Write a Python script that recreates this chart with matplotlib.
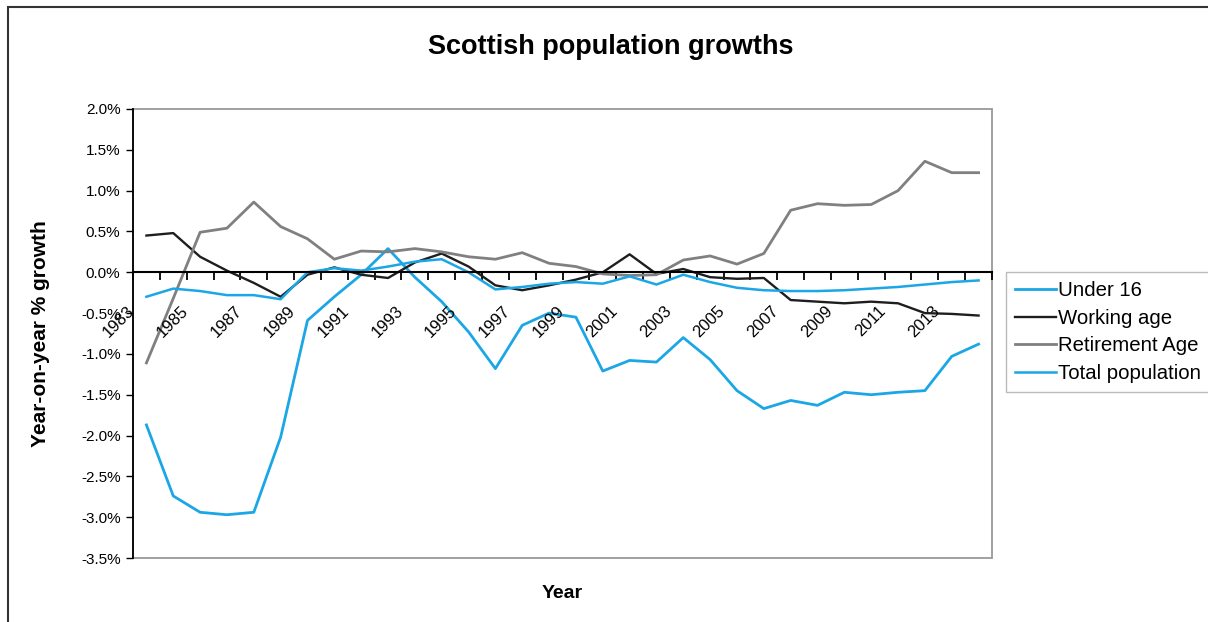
import matplotlib
matplotlib.use("Agg")
import matplotlib.pyplot as plt
from matplotlib.patches import Rectangle

plt.rcParams["font.family"] = ["Liberation Sans", "DejaVu Sans"]

# data (year-on-year % growth)
years = list(range(1983, 2015))
under16 = [-1.87, -2.74, -2.94, -2.97, -2.94, -2.02, -0.59, -0.30, -0.03, 0.29,
           -0.06, -0.36, -0.73, -1.18, -0.65, -0.50, -0.55, -1.21, -1.08, -1.10,
           -0.80, -1.07, -1.45, -1.67, -1.57, -1.63, -1.47, -1.50, -1.47, -1.45,
           -1.03, -0.88]
working_age = [0.45, 0.48, 0.19, 0.02, -0.13, -0.30, -0.03, 0.06, -0.03, -0.07,
               0.12, 0.23, 0.07, -0.16, -0.22, -0.16, -0.09, 0.00, 0.22, -0.02,
               0.04, -0.06, -0.08, -0.07, -0.34, -0.36, -0.38, -0.36, -0.38, -0.50,
               -0.51, -0.53]
retirement_age = [-1.11, -0.32, 0.49, 0.54, 0.86, 0.56, 0.41, 0.16, 0.26, 0.25,
                  0.29, 0.25, 0.19, 0.16, 0.24, 0.11, 0.07, -0.02, -0.04, -0.03,
                  0.15, 0.20, 0.10, 0.23, 0.76, 0.84, 0.82, 0.83, 1.00, 1.36,
                  1.22, 1.22]
total_pop = [-0.30, -0.20, -0.23, -0.28, -0.28, -0.33, 0.00, 0.05, 0.02, 0.07,
             0.13, 0.16, 0.00, -0.21, -0.18, -0.14, -0.12, -0.14, -0.05, -0.15,
             -0.03, -0.12, -0.19, -0.22, -0.23, -0.23, -0.22, -0.20, -0.18, -0.15,
             -0.12, -0.10]
yticks = [2.0, 1.5, 1.0, 0.5, 0.0, -0.5, -1.0, -1.5, -2.0, -2.5, -3.0, -3.5]

blue = "#1ba6e6"
W, H = 1208, 622
fig = plt.figure(figsize=(W / 100, H / 100), dpi=100)
ax = fig.add_axes([133 / W, 1 - 558 / H, (992 - 133) / W, (558 - 109) / H])

x = list(range(len(years)))
ax.plot(x, under16, color=blue, lw=2.0, label="Under 16")
ax.plot(x, working_age, color="#1e1e1e", lw=1.7, label="Working age")
ax.plot(x, retirement_age, color="#808080", lw=2.0, label="Retirement Age")
ax.plot(x, total_pop, color=blue, lw=1.8, label="Total population")

ax.set_xlim(-0.5, len(years) - 0.5)
ax.set_ylim(-3.5, 2.0)

# value axis
ax.set_yticks(yticks)
ax.set_yticklabels([f"{v:.1f}%" for v in yticks], fontsize=11)
ax.tick_params(axis="y", direction="out", length=5, width=1, color="black", pad=4)

# category axis sits at zero, ticks between categories
for s in ["top", "right"]:
    ax.spines[s].set_visible(False)
ax.spines["bottom"].set_position(("data", 0))
ax.spines["bottom"].set_linewidth(1.5)
ax.spines["left"].set_linewidth(1.3)
ax.set_xticks([i - 0.5 for i in range(len(years) + 1)])
ax.set_xticklabels([])
ax.tick_params(axis="x", direction="out", length=6, width=1.3, color="black")

for i, yr in enumerate(years):
    if yr % 2 == 1:
        ax.annotate(str(yr), xy=(i, 0), xytext=(-9, -31), textcoords="offset pixels",
                    rotation=45, ha="right", va="top", fontsize=12)

# plot area frame
ax.add_patch(Rectangle((0, 0), 1, 1, transform=ax.transAxes, fill=False,
                       edgecolor="#999999", lw=1.3, clip_on=False, zorder=0))

ax.set_ylabel("Year-on-year % growth", fontsize=15, fontweight="bold", labelpad=22)
fig.text(562 / W, 1 - 594 / H, "Year", fontsize=14, fontweight="bold",
         ha="center", va="center")
fig.text(611 / W, 1 - 47 / H, "Scottish population growths", fontsize=19.5,
         fontweight="bold", ha="center", va="center")

leg = ax.legend(loc="upper left", bbox_to_anchor=(1006 / W, 1 - 272 / H),
                bbox_transform=fig.transFigure, fontsize=14.7, frameon=True,
                fancybox=False, edgecolor="#aaaaaa", borderaxespad=0,
                borderpad=0.45, labelspacing=0.42, handlelength=2.0,
                handletextpad=0.1)
leg.get_frame().set_linewidth(1.0)

# outer chart border
fig.patches.append(Rectangle((8 / W, -0.05), 1.2, 1 - 7 / H + 0.05,
                             transform=fig.transFigure, fill=False,
                             edgecolor="#333333", lw=1.5))

plt.savefig("out.png", dpi=100)
